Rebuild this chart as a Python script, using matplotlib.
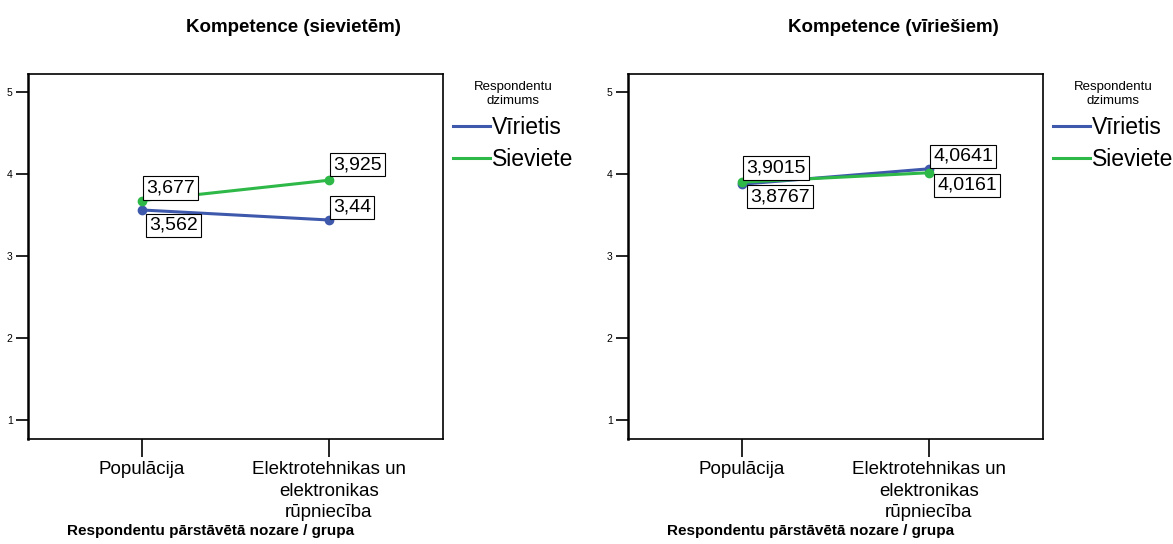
import matplotlib
matplotlib.use('Agg')
import matplotlib.pyplot as plt

plt.rcParams['font.family'] = ['Liberation Sans', 'DejaVu Sans']

categories = ['Populācija', 'Elektrotehnikas un\nelektronikas\nrūpniecība']
series_names = ['Vīrietis', 'Sieviete']
titles = ['Kompetence (sievietēm)', 'Kompetence (vīriešiem)']
women_male = [3.562, 3.44]
women_female = [3.677, 3.925]
men_male = [3.8767, 4.0641]
men_female = [3.9015, 4.0161]
women_labels_male = ['3,562', '3,44']
women_labels_female = ['3,677', '3,925']
men_labels_male = ['3,8767', '4,0641']
men_labels_female = ['3,9015', '4,0161']
y_ticks = [1, 2, 3, 4, 5]
xlabel = 'Respondentu pārstāvētā nozare / grupa'
legend_title = 'Respondentu\ndzimums'

BLUE = '#3E58AC'
GREEN = '#2EB848'

W, H = 1173, 544
fig = plt.figure(figsize=(W / 100, H / 100), dpi=100)

panels = [
    (28, titles[0], women_male, women_female, women_labels_male, women_labels_female,
     # label offsets (points): male pop, male ind, female pop, female ind
     [((5, -5), 'top'), ((3, 3), 'bottom'), ((3, 3), 'bottom'), ((3, 5), 'bottom')]),
    (628, titles[1], men_male, men_female, men_labels_male, men_labels_female,
     [((6, -3), 'top'), ((3, 3), 'bottom'), ((3, 4), 'bottom'), ((6, -3), 'top')]),
]

bbox = dict(boxstyle='square,pad=0.16', fc='white', ec='black', lw=0.8)

for left_px, title, ym, yf, lm, lf, offs in panels:
    ax = fig.add_axes([left_px / W, (H - 439) / H, 415 / W, 365 / H])
    xs = list(range(len(categories)))
    ax.plot(xs, ym, color=BLUE, lw=2.2, marker='o', ms=6, label=series_names[0], zorder=3)
    ax.plot(xs, yf, color=GREEN, lw=2.2, marker='o', ms=6, label=series_names[1], zorder=3)
    ax.set_xlim(-0.61, 1.61)
    ax.set_ylim(0.77, 5.22)
    ax.set_xticks(xs)
    ax.set_xticklabels(categories, fontsize=13.5, linespacing=1.35)
    ax.set_yticks(y_ticks)
    ax.set_yticklabels([str(t) for t in y_ticks], fontsize=7.5)
    ax.tick_params(axis='x', length=13, width=1.2, pad=3)
    ax.tick_params(axis='y', length=9, width=1.2, pad=2)
    for s in ax.spines.values():
        s.set_linewidth(1.2)
    ax.spines['left'].set_linewidth(1.8)

    pts = [(xs[0], ym[0], lm[0]), (xs[1], ym[1], lm[1]), (xs[0], yf[0], lf[0]), (xs[1], yf[1], lf[1])]
    for (x, y, txt), (off, va) in zip(pts, offs):
        ax.annotate(txt, (x, y), xytext=off, textcoords='offset points', ha='left', va=va,
                    fontsize=14, bbox=bbox, zorder=5)

    leg = ax.legend(loc='upper left', bbox_to_anchor=(1.024, 0.98), frameon=False,
                    fontsize=16.5, title=legend_title, title_fontsize=9.5,
                    handlelength=1.6, handletextpad=0.1, labelspacing=0.4, borderpad=0,
                    borderaxespad=0)
    leg.get_title().set_multialignment('center')
    leg.get_title().set_linespacing(1.2)
    for h in leg.legend_handles:
        h.set_marker('')

    fig.text((left_px + 265) / W, 1 - 27 / H, title, ha='center', va='center', fontsize=13.5, fontweight='bold')
    fig.text((left_px + 183) / W, 1 - 531 / H, xlabel, ha='center', va='center', fontsize=11, fontweight='bold')

fig.savefig('out.png', dpi=100)
